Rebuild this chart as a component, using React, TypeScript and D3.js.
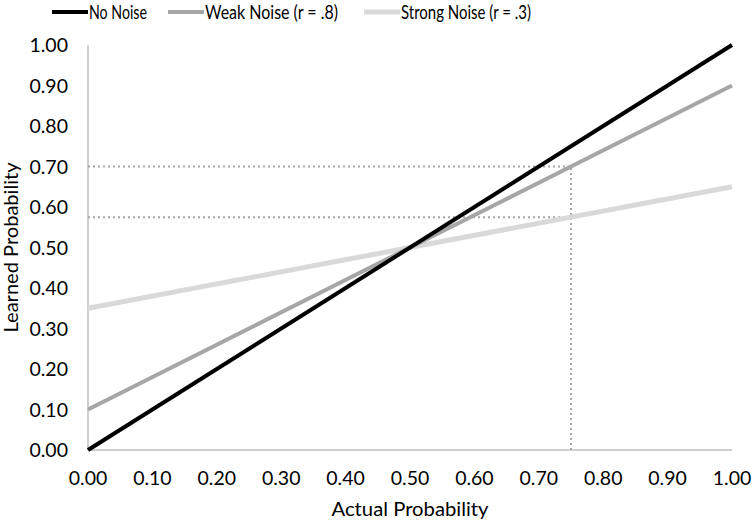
import React, { useEffect, useRef } from "react";
import * as d3 from "d3";

// data
const actualPoints = [0, 1];
const noNoise = [0, 1];
const weakNoise = [0.1, 0.9];
const strongNoise = [0.35, 0.65];
const seriesNames = ["No Noise", "Weak Noise  (r = .8)", "Strong Noise (r = .3)"];
const seriesColors = ["#000000", "#a6a6a6", "#d9d9d9"];
const seriesWidths = [4, 4, 5];
const guideX = 0.75;
const guideY = [0.7, 0.575];
const ticks = d3.range(0, 11).map((i) => i / 10);

const W = 754;
const H = 523;
const margin = { top: 45, right: 22, bottom: 73, left: 88 };
const FONT = "Lato, 'Open Sans', sans-serif";

export default function App() {
  const svgRef = useRef<SVGSVGElement>(null);

  useEffect(() => {
    if (!svgRef.current) return;
    const svg = d3.select(svgRef.current);
    svg.selectAll("*").remove();

    const innerW = W - margin.left - margin.right;
    const innerH = H - margin.top - margin.bottom;

    const x = d3.scaleLinear().domain([0, 1]).range([0, innerW]);
    const y = d3.scaleLinear().domain([0, 1]).range([innerH, 0]);

    const g = svg.append("g").attr("transform", `translate(${margin.left},${margin.top})`);

    // axis lines
    g.append("line")
      .attr("x1", 0).attr("x2", 0).attr("y1", 0).attr("y2", innerH)
      .attr("stroke", "#bfbfbf").attr("stroke-width", 1.5);
    g.append("line")
      .attr("x1", 0).attr("x2", innerW).attr("y1", innerH).attr("y2", innerH)
      .attr("stroke", "#bfbfbf").attr("stroke-width", 1.5);

    // tick labels
    g.selectAll(".ylab")
      .data(ticks)
      .enter()
      .append("text")
      .attr("x", -20)
      .attr("y", (d) => y(d))
      .attr("dy", "0.36em")
      .attr("text-anchor", "end")
      .style("font-family", FONT)
      .style("font-size", "19.5px")
      .attr("fill", "#000")
      .text((d) => d.toFixed(2));

    g.selectAll(".xlab")
      .data(ticks)
      .enter()
      .append("text")
      .attr("x", (d) => x(d))
      .attr("y", innerH + 28)
      .attr("dy", "0.36em")
      .attr("text-anchor", "middle")
      .style("font-family", FONT)
      .style("font-size", "19.5px")
      .attr("fill", "#000")
      .text((d) => d.toFixed(2));

    // guide lines
    const guideStyle = (sel: any) =>
      sel.attr("stroke", "#a6a6a6").attr("stroke-width", 2).attr("stroke-dasharray", "2,3").attr("fill", "none");
    guideY.forEach((v) => {
      g.append("line")
        .attr("x1", x(0)).attr("x2", x(guideX))
        .attr("y1", y(v)).attr("y2", y(v))
        .call(guideStyle);
    });
    g.append("line")
      .attr("x1", x(guideX)).attr("x2", x(guideX))
      .attr("y1", y(0)).attr("y2", y(d3.max(guideY) as number))
      .call(guideStyle);

    // series lines
    const series = [noNoise, weakNoise, strongNoise];
    const line = d3
      .line<number>()
      .x((_, i) => x(actualPoints[i]))
      .y((d) => y(d));
    [2, 1, 0].forEach((si) => {
      g.append("path")
        .datum(series[si])
        .attr("d", line)
        .attr("fill", "none")
        .attr("stroke", seriesColors[si])
        .attr("stroke-width", seriesWidths[si]);
    });

    // axis titles
    svg.append("text")
      .attr("x", margin.left + innerW / 2)
      .attr("y", H - 7)
      .attr("text-anchor", "middle")
      .attr("textLength", 157)
      .attr("lengthAdjust", "spacingAndGlyphs")
      .style("font-family", FONT)
      .style("font-size", "18.5px")
      .text("Actual Probability");
    svg.append("text")
      .attr("transform", `translate(12,${margin.top + innerH / 2}) rotate(-90)`)
      .attr("text-anchor", "middle")
      .attr("dy", "0.35em")
      .attr("textLength", 170)
      .attr("lengthAdjust", "spacingAndGlyphs")
      .style("font-family", FONT)
      .style("font-size", "18.5px")
      .text("Learned Probability");

    // legend
    const legendX = [52, 168, 364];
    const legendLen = [58, 133, 130];
    seriesNames.forEach((name, i) => {
      const lg = svg.append("g").attr("transform", `translate(${legendX[i]},12)`);
      lg.append("line")
        .attr("x1", 0).attr("x2", 36).attr("y1", 0).attr("y2", 0)
        .attr("stroke", seriesColors[i])
        .attr("stroke-width", seriesWidths[i]);
      lg.append("text")
        .attr("x", 37)
        .attr("y", 0)
        .attr("dy", "0.36em")
        .attr("textLength", legendLen[i])
        .attr("lengthAdjust", "spacingAndGlyphs")
        .style("font-family", FONT)
        .style("font-size", "19.5px")
        .text(name);
    });
  }, []);

  return (
    <svg
      ref={svgRef}
      width={W}
      height={H}
      style={{ position: "absolute", left: 0, top: 0, background: "#fff" }}
    />
  );
}
